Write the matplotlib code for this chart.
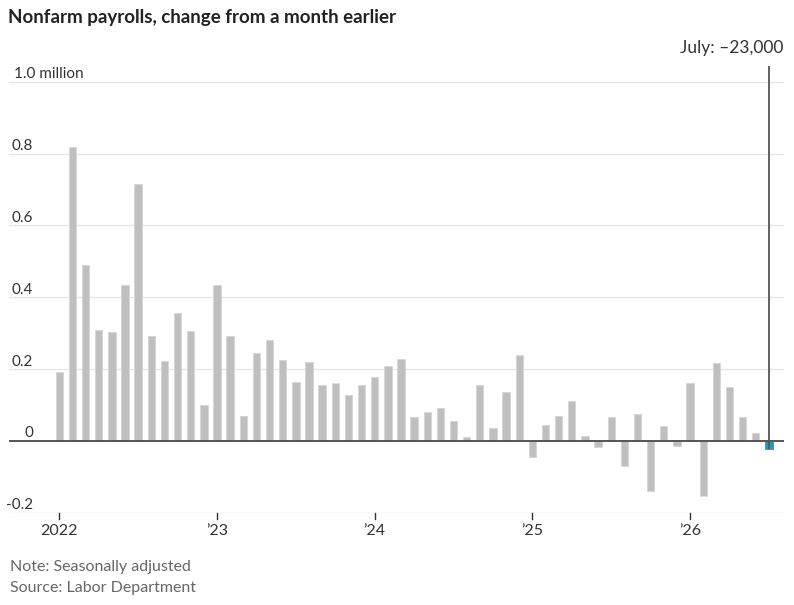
import matplotlib
matplotlib.use("Agg")
import matplotlib.pyplot as plt
import matplotlib.transforms as mtransforms
import numpy as np

# ---- data (millions of jobs, monthly change) ----
months = [f"{y}-{m:02d}" for y in range(2022, 2027) for m in range(1, 13)][:55]
values = [
    0.192, 0.819, 0.490, 0.309, 0.302, 0.434, 0.715, 0.292, 0.222, 0.357, 0.306, 0.100,   # 2022
    0.434, 0.292, 0.069, 0.244, 0.281, 0.226, 0.163, 0.219, 0.156, 0.160, 0.129, 0.156,   # 2023
    0.177, 0.208, 0.229, 0.066, 0.080, 0.091, 0.056, 0.010, 0.156, 0.035, 0.135, 0.240,   # 2024
    -0.044, 0.045, 0.069, 0.111, 0.014, -0.017, 0.066, -0.069, 0.076, -0.139, 0.042, -0.014,  # 2025
    0.160, -0.153, 0.216, 0.149, 0.066, 0.021, -0.023,                                   # 2026
]
ytick_vals = [-0.2, 0, 0.2, 0.4, 0.6, 0.8, 1.0]
ytick_labels = ["-0.2", "0", "0.2", "0.4", "0.6", "0.8", "1.0 million"]
xtick_idx = [0, 12, 24, 36, 48]
xtick_labels = ["2022", "\u201923", "\u201924", "\u201925", "\u201926"]
highlight_label = "July: \u201323,000"

FONT = ["Lato", "DejaVu Sans"]
plt.rcParams["font.family"] = FONT

W, H = 794, 605
fig = plt.figure(figsize=(W / 100, H / 100), dpi=100)
fig.patch.set_facecolor("white")

ax_left, ax_right = 9, 784
ax_top, ax_bottom = 66, 512.7
ax = fig.add_axes([ax_left / W, (H - ax_bottom) / H,
                   (ax_right - ax_left) / W, (ax_bottom - ax_top) / H])
ax.set_xlim(-3.83, 55.15)
ax.set_ylim(-0.2, 1.0436)
for s in ax.spines.values():
    s.set_visible(False)
ax.set_xticks([])
ax.set_yticks([])
ax.patch.set_alpha(0)

x = np.arange(len(values))
n = len(values)
colors = ["#bfbfbf"] * (n - 1) + ["#1a9fb5"]
edges = ["#d6d6d6"] * (n - 1) + ["#1a9fb5"]

# gridlines
for v in ytick_vals:
    if v == 0:
        continue
    ax.axhline(v, color="#e6e6e6", lw=1.0, zorder=0)

ax.bar(x, values, width=0.56, color=colors, edgecolor=edges, linewidth=0.6, zorder=2)

# zero line
ax.axhline(0, color="#555555", lw=1.4, zorder=3)

# highlight vertical line
ax.plot([x[-1], x[-1]], [values[-1] - 0.001, 1.0436], color="#555555", lw=1.3, zorder=4,
        solid_capstyle="butt")
ax.annotate(highlight_label, xy=(x[-1], 1.0436), xycoords="data",
            xytext=(783 / W, (H - 48) / H), textcoords="figure fraction",
            ha="right", va="center", fontsize=12.5, color="#333333")

# y labels
trans = mtransforms.blended_transform_factory(fig.transFigure, ax.transData)
for v, lab in zip(ytick_vals, ytick_labels):
    if lab.endswith("million"):
        ax.annotate(lab, xy=(14 / W, v), xycoords=trans, xytext=(0, 2.5),
                    textcoords="offset points", ha="left", va="baseline",
                    fontsize=11, color="#333333")
    else:
        ax.annotate(lab, xy=(33 / W, v), xycoords=trans, xytext=(0, 2.5),
                    textcoords="offset points", ha="right", va="baseline",
                    fontsize=11, color="#333333")

# x ticks
transx = mtransforms.blended_transform_factory(ax.transData, fig.transFigure)
for i, lab in zip(xtick_idx, xtick_labels):
    ax.plot([i, i], [-0.2, -0.2 - 6 / 360], color="#333333", lw=1.0, clip_on=False, zorder=3)
    ax.annotate(lab, xy=(i, (H - 531) / H), xycoords=transx, ha="center", va="center",
                fontsize=11.5, color="#333333", annotation_clip=False)

# title & notes
fig.text(8 / W, (H - 17) / H, "Nonfarm payrolls, change from a month earlier",
         ha="left", va="center", fontsize=13.5, fontweight="bold", color="#222222")
fig.text(10 / W, (H - 567) / H, "Note: Seasonally adjusted",
         ha="left", va="center", fontsize=11.5, color="#666666")
fig.text(10 / W, (H - 588) / H, "Source: Labor Department",
         ha="left", va="center", fontsize=11.5, color="#666666")

fig.savefig("out.png", dpi=100, facecolor="white")
